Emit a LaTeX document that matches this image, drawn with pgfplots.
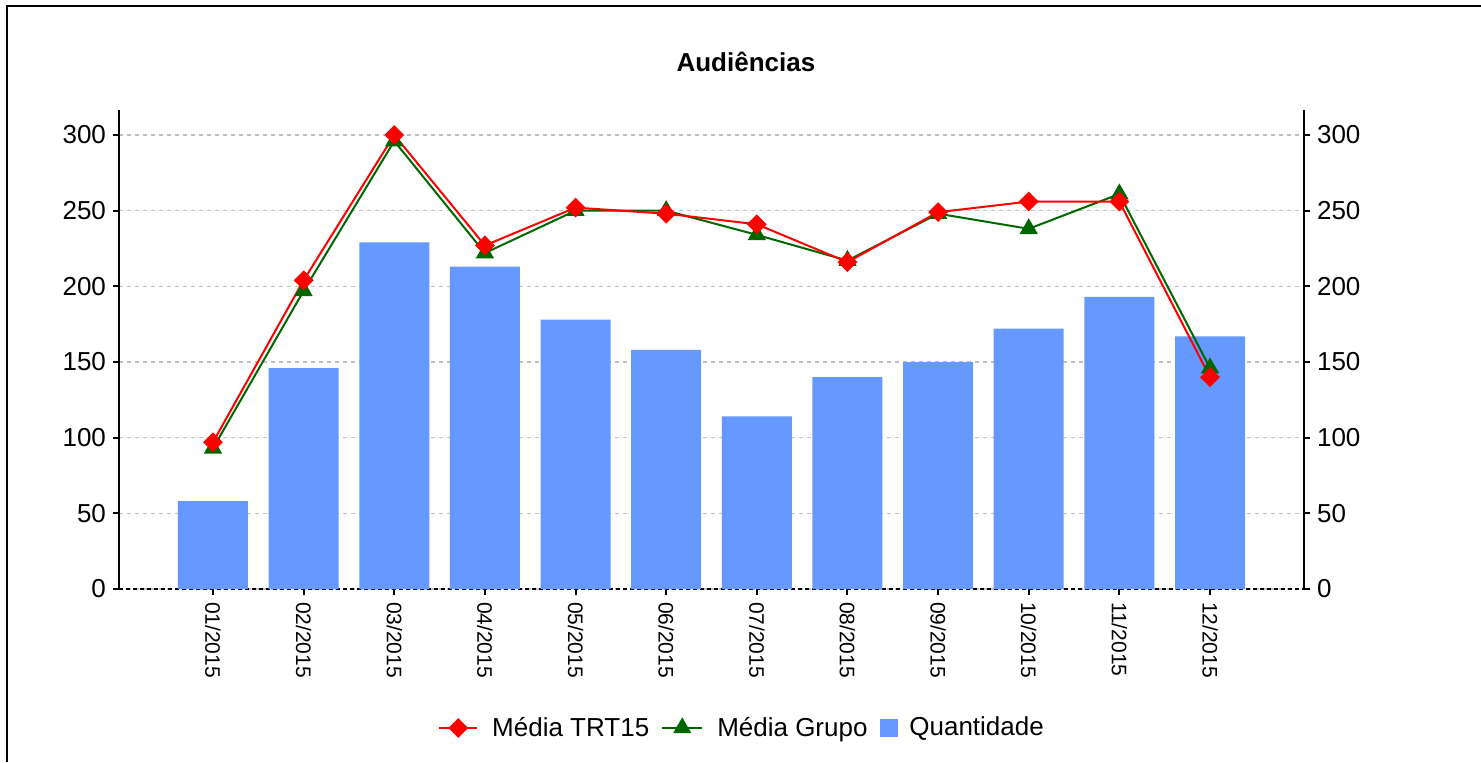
\documentclass[border=0pt]{standalone}
\usepackage{fontspec}
\setmainfont{Liberation Sans}
\usepackage{pgfplots}
\pgfplotsset{compat=1.18}
\definecolor{barblue}{HTML}{6699FF}
\definecolor{dgreen}{HTML}{006600}
\definecolor{gridgray}{HTML}{C0C0C0}

\begin{document}
\begin{tikzpicture}
\useasboundingbox (0pt,0pt) rectangle (740.5pt,-381pt);
\draw[line width=1pt] (3.5pt,-381pt) -- (3.5pt,-3pt) -- (740.5pt,-3pt);
\begin{axis}[
  at={(59.5pt,-294.5pt)}, anchor=south west,
  width=592.5pt, height=239.5pt, scale only axis,
  xmin=-1.037, xmax=12.037, ymin=0, ymax=316.5,
  axis x line*=bottom, axis y line*=left,
  x axis line style={black, line width=0.6pt, dash pattern=on 2pt off 1.5pt, -},
  y axis line style={black, line width=1pt, -},
  xtick={0,...,11},
  xticklabels={01/2015,02/2015,03/2015,04/2015,05/2015,06/2015,07/2015,08/2015,09/2015,10/2015,11/2015,12/2015},
  ytick={0,50,...,300},
  ymajorgrids,
  grid style={gridgray, dash pattern=on 2pt off 2pt, line width=0.6pt},
  tick align=outside, major tick length=3pt,
  tick style={black, line width=1pt},
  xticklabel style={rotate=-90, anchor=west, font=\fontsize{10.5}{12}\selectfont},
  yticklabel style={font=\fontsize{13}{15}\selectfont},
  /pgf/number format/assume math mode=true,
  title={Audiências},
  title style={at={(0.529,1.075)}, anchor=center, font=\bfseries\fontsize{13}{15}\selectfont},
  legend columns=3,
  legend style={at={(0.5266,-0.290)}, anchor=center, draw=none, fill=none,
    font=\fontsize{13}{15}\selectfont,
    /tikz/every even column/.append style={column sep=4pt}},
]
\addlegendimage{red, line width=1pt, mark=square*, mark size=3pt, mark options={rotate=45, fill=red},
  legend image code/.code={\draw[mark repeat=2,mark phase=2] plot coordinates {(0pt,0pt)(9.5pt,0pt)(19pt,0pt)}; \path (24pt,0pt);}}
\addlegendentry{Média TRT15}
\addlegendimage{dgreen, line width=1pt, mark=triangle*, mark size=4.3pt, mark options={fill=dgreen},
  legend image code/.code={\draw[mark repeat=2,mark phase=2] plot coordinates {(0pt,0pt)(10pt,0pt)(20pt,0pt)}; \path (25pt,0pt);}}
\addlegendentry{Média Grupo}
\addlegendimage{legend image code/.code={\fill[barblue] (0pt,-4.25pt) rectangle (8.5pt,4.25pt); \path (12.5pt,0pt);}}
\addlegendentry{Quantidade}

\addplot[ybar, bar width=35pt, fill=barblue, draw=none, forget plot] coordinates {
(0,58) (1,146) (2,229) (3,213) (4,178) (5,158) (6,114) (7,140) (8,150) (9,172) (10,193) (11,167)};
\addplot[dgreen, line width=1pt, mark=triangle*, mark size=4.3pt, mark options={fill=dgreen}, forget plot] coordinates {
(0,93) (1,197) (2,296) (3,222) (4,250) (5,250) (6,234) (7,217) (8,248) (9,238) (10,261) (11,146)};
\addplot[red, line width=1pt, mark=square*, mark size=3pt, mark options={rotate=45, fill=red}, forget plot] coordinates {
(0,97) (1,204) (2,300) (3,227) (4,252) (5,248) (6,241) (7,216) (8,249) (9,256) (10,256) (11,140)};
\end{axis}
\begin{axis}[
  at={(59.5pt,-294.5pt)}, anchor=south west,
  width=592.5pt, height=239.5pt, scale only axis,
  xmin=-1.037, xmax=12.037, ymin=0, ymax=316.5,
  axis x line=none, axis y line*=right,
  y axis line style={black, line width=1pt, -},
  xtick=\empty,
  ytick={0,50,...,300},
  tick align=outside, major tick length=3pt,
  tick style={black, line width=1pt},
  yticklabel style={font=\fontsize{13}{15}\selectfont},
  /pgf/number format/assume math mode=true,
]
\addplot[draw=none, forget plot] coordinates {(0,0)};
\end{axis}
\end{tikzpicture}
\end{document}
